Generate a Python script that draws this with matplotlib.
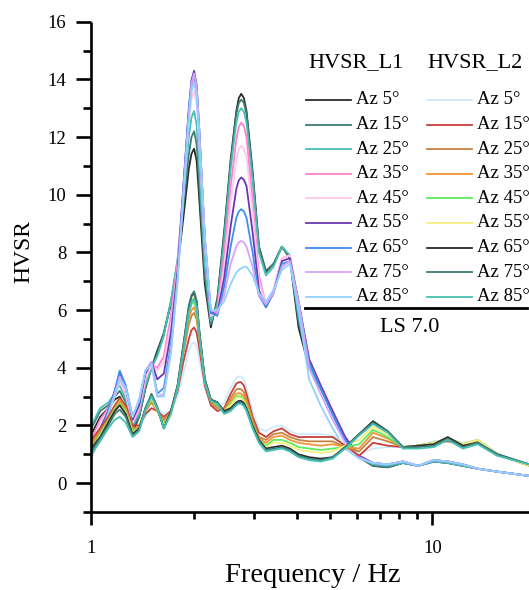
import numpy as np
import matplotlib
matplotlib.use("Agg")
import matplotlib.pyplot as plt
from matplotlib.lines import Line2D
from matplotlib.ticker import LogLocator, FixedLocator, NullFormatter, FixedFormatter

plt.rcParams['font.family'] = ['Liberation Serif', 'DejaVu Serif']

# frequency grid (Hz) shared by all curves
freq = [1.00, 1.06, 1.12, 1.17, 1.21, 1.26, 1.32, 1.38, 1.44, 1.50,
        1.56, 1.63, 1.71, 1.79, 1.86, 1.93, 1.965, 2.00, 2.035,
        2.07, 2.15, 2.24, 2.34, 2.45, 2.56, 2.66, 2.705, 2.75, 2.80,
        2.85, 2.97, 3.10, 3.25, 3.42, 3.62, 3.82, 4.05, 4.35, 4.70,
        5.10, 5.55, 6.10, 6.70, 7.40, 8.20, 9.10, 10.1, 11.1, 12.3,
        13.6, 15.5, 19.3]

azimuths = [5, 15, 25, 35, 45, 55, 65, 75, 85]

# HVSR_L1 curves (one per azimuth)
l1_az5 = [1.7, 2.3, 2.6, 2.9, 3.0, 2.6, 1.75, 2.3, 3.3, 4.0, 4.6, 5.2, 6.2, 7.5, 9.2, 10.9,
          11.42, 11.6, 11.17,
          9.9, 6.9, 5.4, 6.4, 8.7, 11.2, 12.9,
          13.35, 13.5, 13.35,
          12.9, 10.8, 8.2, 7.35, 7.6, 8.2, 7.8, 5.4, 4.0, 3.3, 2.4, 1.5, 0.9, 0.6, 0.55, 0.7, 0.6,
          0.75, 0.7, 0.6, 0.5, 0.4, 0.25]
l1_az15 = [1.9, 2.5, 2.7, 3.0, 3.2, 2.8, 1.9, 2.3, 3.3, 4.0, 4.5, 5.2, 6.3, 7.7, 9.6, 11.4,
           12.0, 12.2, 11.75,
           10.4, 7.2, 5.5, 6.3, 8.6, 11.1, 12.8,
           13.18, 13.3, 13.18,
           12.8, 10.7, 8.2, 7.3, 7.6, 8.2, 7.8, 5.6, 4.1, 3.3, 2.4, 1.5, 0.9, 0.6, 0.55, 0.7, 0.6,
           0.75, 0.7, 0.6, 0.5, 0.4, 0.25]
l1_az25 = [2.0, 2.6, 2.8, 3.1, 3.4, 2.9, 2.0, 2.4, 3.4, 4.0, 4.4, 5.1, 6.3, 7.8, 9.9, 12.0,
           12.68, 12.9, 12.42,
           11.0, 7.6, 5.6, 6.2, 8.4, 10.9, 12.5,
           12.88, 13.0, 12.88,
           12.5, 10.5, 8.0, 7.2, 7.5, 8.2, 7.9, 5.8, 4.1, 3.3, 2.4, 1.5, 0.9, 0.65, 0.6, 0.7, 0.6,
           0.75, 0.7, 0.6, 0.5, 0.4, 0.25]
l1_az35 = [1.5, 2.2, 2.6, 3.1, 3.6, 3.1, 2.1, 2.5, 3.6, 4.1, 4.0, 4.4, 5.8, 7.7, 10.2, 12.8,
           13.7, 14.0, 13.5,
           12.0, 8.3, 5.8, 6.0, 7.9, 10.3, 11.9,
           12.35, 12.5, 12.38,
           12.0, 9.8, 7.2, 6.2, 6.7, 7.8, 7.9, 6.2, 4.3, 3.4, 2.5, 1.6, 0.95, 0.7, 0.65, 0.75, 0.6,
           0.8, 0.75, 0.65, 0.5, 0.4, 0.25]
l1_az45 = [1.4, 2.1, 2.5, 3.0, 3.5, 3.1, 2.1, 2.6, 3.6, 4.1, 3.9, 4.2, 5.5, 7.5, 10.0, 12.5,
           13.33, 13.6, 13.15,
           11.8, 8.2, 5.8, 5.9, 7.5, 9.7, 11.2,
           11.58, 11.7, 11.6,
           11.3, 9.4, 7.0, 6.2, 6.7, 7.8, 7.9, 6.3, 4.3, 3.4, 2.5, 1.6, 0.95, 0.7, 0.65, 0.75, 0.6,
           0.8, 0.75, 0.65, 0.5, 0.4, 0.25]
l1_az55 = [1.2, 1.9, 2.5, 3.2, 3.85, 3.3, 2.2, 2.7, 3.8, 4.2, 3.6, 3.8, 5.2, 7.4, 10.3, 13.0,
           13.98, 14.3, 13.8,
           12.3, 8.5, 5.9, 5.9, 7.1, 8.9, 10.2,
           10.5, 10.6, 10.52,
           10.3, 8.7, 6.7, 6.1, 6.6, 7.7, 7.8, 6.3, 4.3, 3.4, 2.5, 1.6, 0.95, 0.7, 0.65, 0.75, 0.6,
           0.8, 0.75, 0.65, 0.5, 0.4, 0.25]
l1_az65 = [1.1, 1.8, 2.5, 3.2, 3.9, 3.4, 2.3, 2.8, 3.9, 4.2, 3.1, 3.3, 4.8, 7.2, 10.2, 12.9,
           13.88, 14.2, 13.72,
           12.3, 8.5, 5.9, 5.8, 6.8, 8.2, 9.2,
           9.42, 9.5, 9.42,
           9.2, 8.0, 6.5, 6.1, 6.6, 7.6, 7.7, 6.3, 4.2, 3.3, 2.4, 1.5, 0.9, 0.7, 0.65, 0.75, 0.6,
           0.8, 0.75, 0.65, 0.5, 0.4, 0.25]
l1_az75 = [1.0, 1.7, 2.4, 3.1, 3.7, 3.3, 2.3, 2.9, 3.9, 4.2, 3.0, 3.1, 4.6, 7.1, 10.1, 12.8,
           13.85, 14.2, 13.72,
           12.3, 8.6, 6.0, 5.9, 6.5, 7.6, 8.2,
           8.35, 8.4, 8.35,
           8.2, 7.5, 6.5, 6.2, 6.6, 7.5, 7.7, 6.3, 4.0, 3.1, 2.2, 1.4, 0.9, 0.7, 0.65, 0.75, 0.6,
           0.8, 0.75, 0.65, 0.5, 0.4, 0.25]
l1_az85 = [0.9, 1.6, 2.4, 3.0, 3.6, 3.3, 2.3, 2.9, 3.9, 4.1, 3.0, 3.0, 4.5, 7.0, 9.9, 12.6,
           13.58, 13.9, 13.42,
           12.0, 8.5, 6.0, 6.0, 6.3, 6.9, 7.3,
           7.4, 7.45, 7.5,
           7.5, 7.2, 6.6, 6.3, 6.7, 7.4, 7.6, 6.0, 3.6, 2.7, 1.9, 1.2, 0.85, 0.7, 0.65, 0.75, 0.6,
           0.8, 0.75, 0.65, 0.5, 0.4, 0.25]

# HVSR_L2 curves
l2_az5 = [1.0, 1.5, 2.1, 2.6, 2.9, 2.6, 1.9, 1.9, 2.3, 2.6, 2.6, 2.4, 2.5, 3.0, 3.8, 4.6,
          4.82, 4.9, 4.75,
          4.3, 3.3, 2.7, 2.6, 2.8, 3.3, 3.65,
          3.7, 3.7, 3.58,
          3.3, 2.5, 1.9, 1.8, 1.95, 2.0, 1.8, 1.7, 1.7, 1.7, 1.65, 1.35, 1.0, 1.2, 1.25, 1.25, 1.3,
          1.45, 1.5, 1.4, 1.5, 1.05, 0.6]
l2_az15 = [1.5, 1.9, 2.3, 2.7, 2.95, 2.7, 2.0, 2.0, 2.4, 2.6, 2.5, 2.3, 2.5, 3.2, 4.2, 5.0,
           5.3, 5.4, 5.22,
           4.7, 3.4, 2.7, 2.5, 2.6, 3.1, 3.45,
           3.5, 3.5, 3.38,
           3.1, 2.3, 1.75, 1.6, 1.8, 1.9, 1.7, 1.6, 1.6, 1.6, 1.6, 1.3, 0.95, 1.4, 1.3, 1.25, 1.3,
           1.4, 1.45, 1.35, 1.45, 1.0, 0.6]
l2_az25 = [1.4, 1.8, 2.2, 2.6, 2.9, 2.6, 1.9, 1.95, 2.5, 2.8, 2.5, 2.2, 2.5, 3.3, 4.5, 5.5,
           5.8, 5.9, 5.68,
           5.0, 3.5, 2.8, 2.6, 2.55, 2.95, 3.25,
           3.27, 3.25, 3.15,
           2.9, 2.2, 1.6, 1.5, 1.7, 1.75, 1.6, 1.5, 1.45, 1.45, 1.45, 1.25, 1.1, 1.6, 1.45, 1.25, 1.3,
           1.4, 1.5, 1.35, 1.45, 1.0, 0.6]
l2_az35 = [1.3, 1.75, 2.2, 2.6, 2.85, 2.55, 1.85, 1.95, 2.55, 2.85, 2.5, 2.1, 2.45, 3.35, 4.6, 5.7,
           6.0, 6.1, 5.85,
           5.1, 3.55, 2.85, 2.65, 2.5, 2.85, 3.1,
           3.12, 3.1, 3.0,
           2.8, 2.1, 1.55, 1.4, 1.6, 1.65, 1.5, 1.4, 1.35, 1.3, 1.35, 1.25, 1.2, 1.75, 1.55, 1.25, 1.3,
           1.4, 1.55, 1.35, 1.5, 1.0, 0.6]
l2_az45 = [1.2, 1.7, 2.15, 2.55, 2.75, 2.5, 1.8, 1.9, 2.55, 2.9, 2.55, 2.05, 2.4, 3.35, 4.7, 5.9,
           6.2, 6.3, 6.02,
           5.2, 3.6, 2.85, 2.7, 2.5, 2.75, 3.0,
           3.02, 3.0, 2.9,
           2.7, 2.05, 1.5, 1.3, 1.5, 1.5, 1.4, 1.25, 1.2, 1.15, 1.2, 1.25, 1.35, 1.85, 1.6, 1.25, 1.3,
           1.4, 1.55, 1.35, 1.5, 1.0, 0.6]
l2_az55 = [1.1, 1.65, 2.1, 2.5, 2.7, 2.45, 1.75, 1.9, 2.6, 2.95, 2.55, 2.0, 2.35, 3.4, 4.75, 6.0,
           6.34, 6.45, 6.15,
           5.25, 3.6, 2.9, 2.75, 2.5, 2.7, 2.95,
           2.97, 2.95, 2.85,
           2.65, 2.0, 1.5, 1.25, 1.4, 1.4, 1.3, 1.15, 1.1, 1.05, 1.1, 1.3, 1.5, 1.95, 1.7, 1.25, 1.3,
           1.4, 1.55, 1.35, 1.5, 1.0, 0.6]
l2_az65 = [1.2, 1.6, 2.1, 2.5, 2.7, 2.4, 1.7, 1.9, 2.6, 3.05, 2.6, 1.9, 2.5, 3.4, 4.75, 6.1,
           6.48, 6.6, 6.28,
           5.3, 3.6, 2.9, 2.8, 2.5, 2.6, 2.8,
           2.85, 2.85, 2.78,
           2.6, 2.0, 1.5, 1.2, 1.25, 1.3, 1.2, 1.0, 0.9, 0.85, 0.9, 1.25, 1.7, 2.15, 1.8, 1.25, 1.3,
           1.35, 1.6, 1.3, 1.4, 1.0, 0.65]
l2_az75 = [1.1, 1.55, 2.0, 2.4, 2.55, 2.3, 1.65, 1.85, 2.6, 3.1, 2.65, 1.9, 2.45, 3.4, 4.8, 6.15,
           6.52, 6.65, 6.32,
           5.35, 3.6, 2.9, 2.8, 2.45, 2.55, 2.75,
           2.8, 2.8, 2.72,
           2.55, 1.95, 1.45, 1.15, 1.2, 1.25, 1.15, 0.95, 0.85, 0.8, 0.9, 1.25, 1.7, 2.1, 1.8, 1.25, 1.25,
           1.3, 1.55, 1.25, 1.4, 1.0, 0.65]
l2_az85 = [1.0, 1.45, 1.9, 2.2, 2.3, 2.1, 1.6, 1.8, 2.55, 3.0, 2.6, 1.9, 2.4, 3.3, 4.6, 5.9,
           6.28, 6.4, 6.1,
           5.2, 3.5, 2.85, 2.75, 2.4, 2.5, 2.7,
           2.75, 2.75, 2.67,
           2.5, 1.9, 1.4, 1.1, 1.15, 1.2, 1.1, 0.9, 0.8, 0.75, 0.85, 1.2, 1.65, 2.05, 1.75, 1.2, 1.2,
           1.25, 1.5, 1.2, 1.35, 0.95, 0.65]

l1_series = [l1_az5, l1_az15, l1_az25, l1_az35, l1_az45, l1_az55, l1_az65, l1_az75, l1_az85]
l2_series = [l2_az5, l2_az15, l2_az25, l2_az35, l2_az45, l2_az55, l2_az65, l2_az75, l2_az85]

l1_colors = ['#2b2b2b', '#3e7c74', '#46bfb4', '#ff80cf', '#ffc9ea',
             '#6b36b3', '#3d8ff2', '#d7a2f8', '#90d2ff']
l2_colors = ['#cfeafc', '#c8403a', '#c8843f', '#f39436', '#5cec5c',
             '#f3ef7f', '#2b2b2b', '#3e7c74', '#46bfb4']

W, H = 529, 590
fig = plt.figure(figsize=(W / 100, H / 100), dpi=100)

# axes box in pixels: left 91.5, right 529, top 21.7, bottom 512
ax = fig.add_axes([91.5 / W, 1 - 512 / H, (W - 91.5) / W, (512 - 21.7) / H])

lw = 1.3
for vals, col in zip(l1_series, l1_colors):
    ax.plot(freq, vals, color=col, lw=lw, solid_joinstyle='round')
for vals, col in zip(l2_series, l2_colors):
    ax.plot(freq, vals, color=col, lw=lw, solid_joinstyle='round')

ax.set_xscale('log')
ax.set_xlim(1, 19.22)
ax.set_ylim(-1, 16)

ax.spines['top'].set_visible(False)
ax.spines['right'].set_visible(False)
for s in ['left', 'bottom']:
    ax.spines[s].set_linewidth(1.9)
    ax.spines[s].set_capstyle('butt')

ax.xaxis.set_major_locator(FixedLocator([1, 10]))
ax.xaxis.set_major_formatter(FixedFormatter(['1', '10']))
ax.xaxis.set_minor_locator(LogLocator(base=10, subs=np.arange(2, 10)))
ax.xaxis.set_minor_formatter(NullFormatter())
ax.set_yticks(range(0, 17, 2))
ax.yaxis.set_minor_locator(FixedLocator(range(-1, 16, 1)))

ax.tick_params(axis='both', which='both', direction='out', width=1.9, labelsize=13.5)
ax.tick_params(axis='y', which='major', length=11, pad=7)
ax.tick_params(axis='y', which='minor', length=6)
ax.tick_params(axis='x', which='major', length=9, pad=11)
ax.tick_params(axis='x', which='minor', length=5)


def fx(px):
    return px / W


def fy(py):
    return 1 - py / H


fig.text(fx(24), fy(252), 'HVSR', rotation=90, ha='center', va='center', fontsize=17)
fig.text(fx(313), fy(576), 'Frequency / Hz', ha='center', va='center', fontsize=20.5)

# legend drawn by hand: two columns with headers
fig.text(fx(308), fy(63), 'HVSR_L1', ha='left', va='center', fontsize=16)
fig.text(fx(427), fy(63), 'HVSR_L2', ha='left', va='center', fontsize=16)
row0, step = 100, 24.6
for k, az in enumerate(azimuths):
    yy = fy(row0 + k * step)
    fig.add_artist(Line2D([fx(306), fx(351)], [yy, yy], color=l1_colors[k], lw=lw))
    fig.text(fx(356), yy, f'Az {az}°', ha='left', va='center', fontsize=13.5)
    fig.add_artist(Line2D([fx(427), fx(472)], [yy, yy], color=l2_colors[k], lw=lw))
    fig.text(fx(477), yy, f'Az {az}°', ha='left', va='center', fontsize=13.5)
fig.add_artist(Line2D([fx(305), fx(527)], [fy(308), fy(308)], color='black', lw=2))
fig.text(fx(410), fy(327), 'LS 7.0', ha='center', va='center', fontsize=16)

fig.savefig('out.png', dpi=100)
